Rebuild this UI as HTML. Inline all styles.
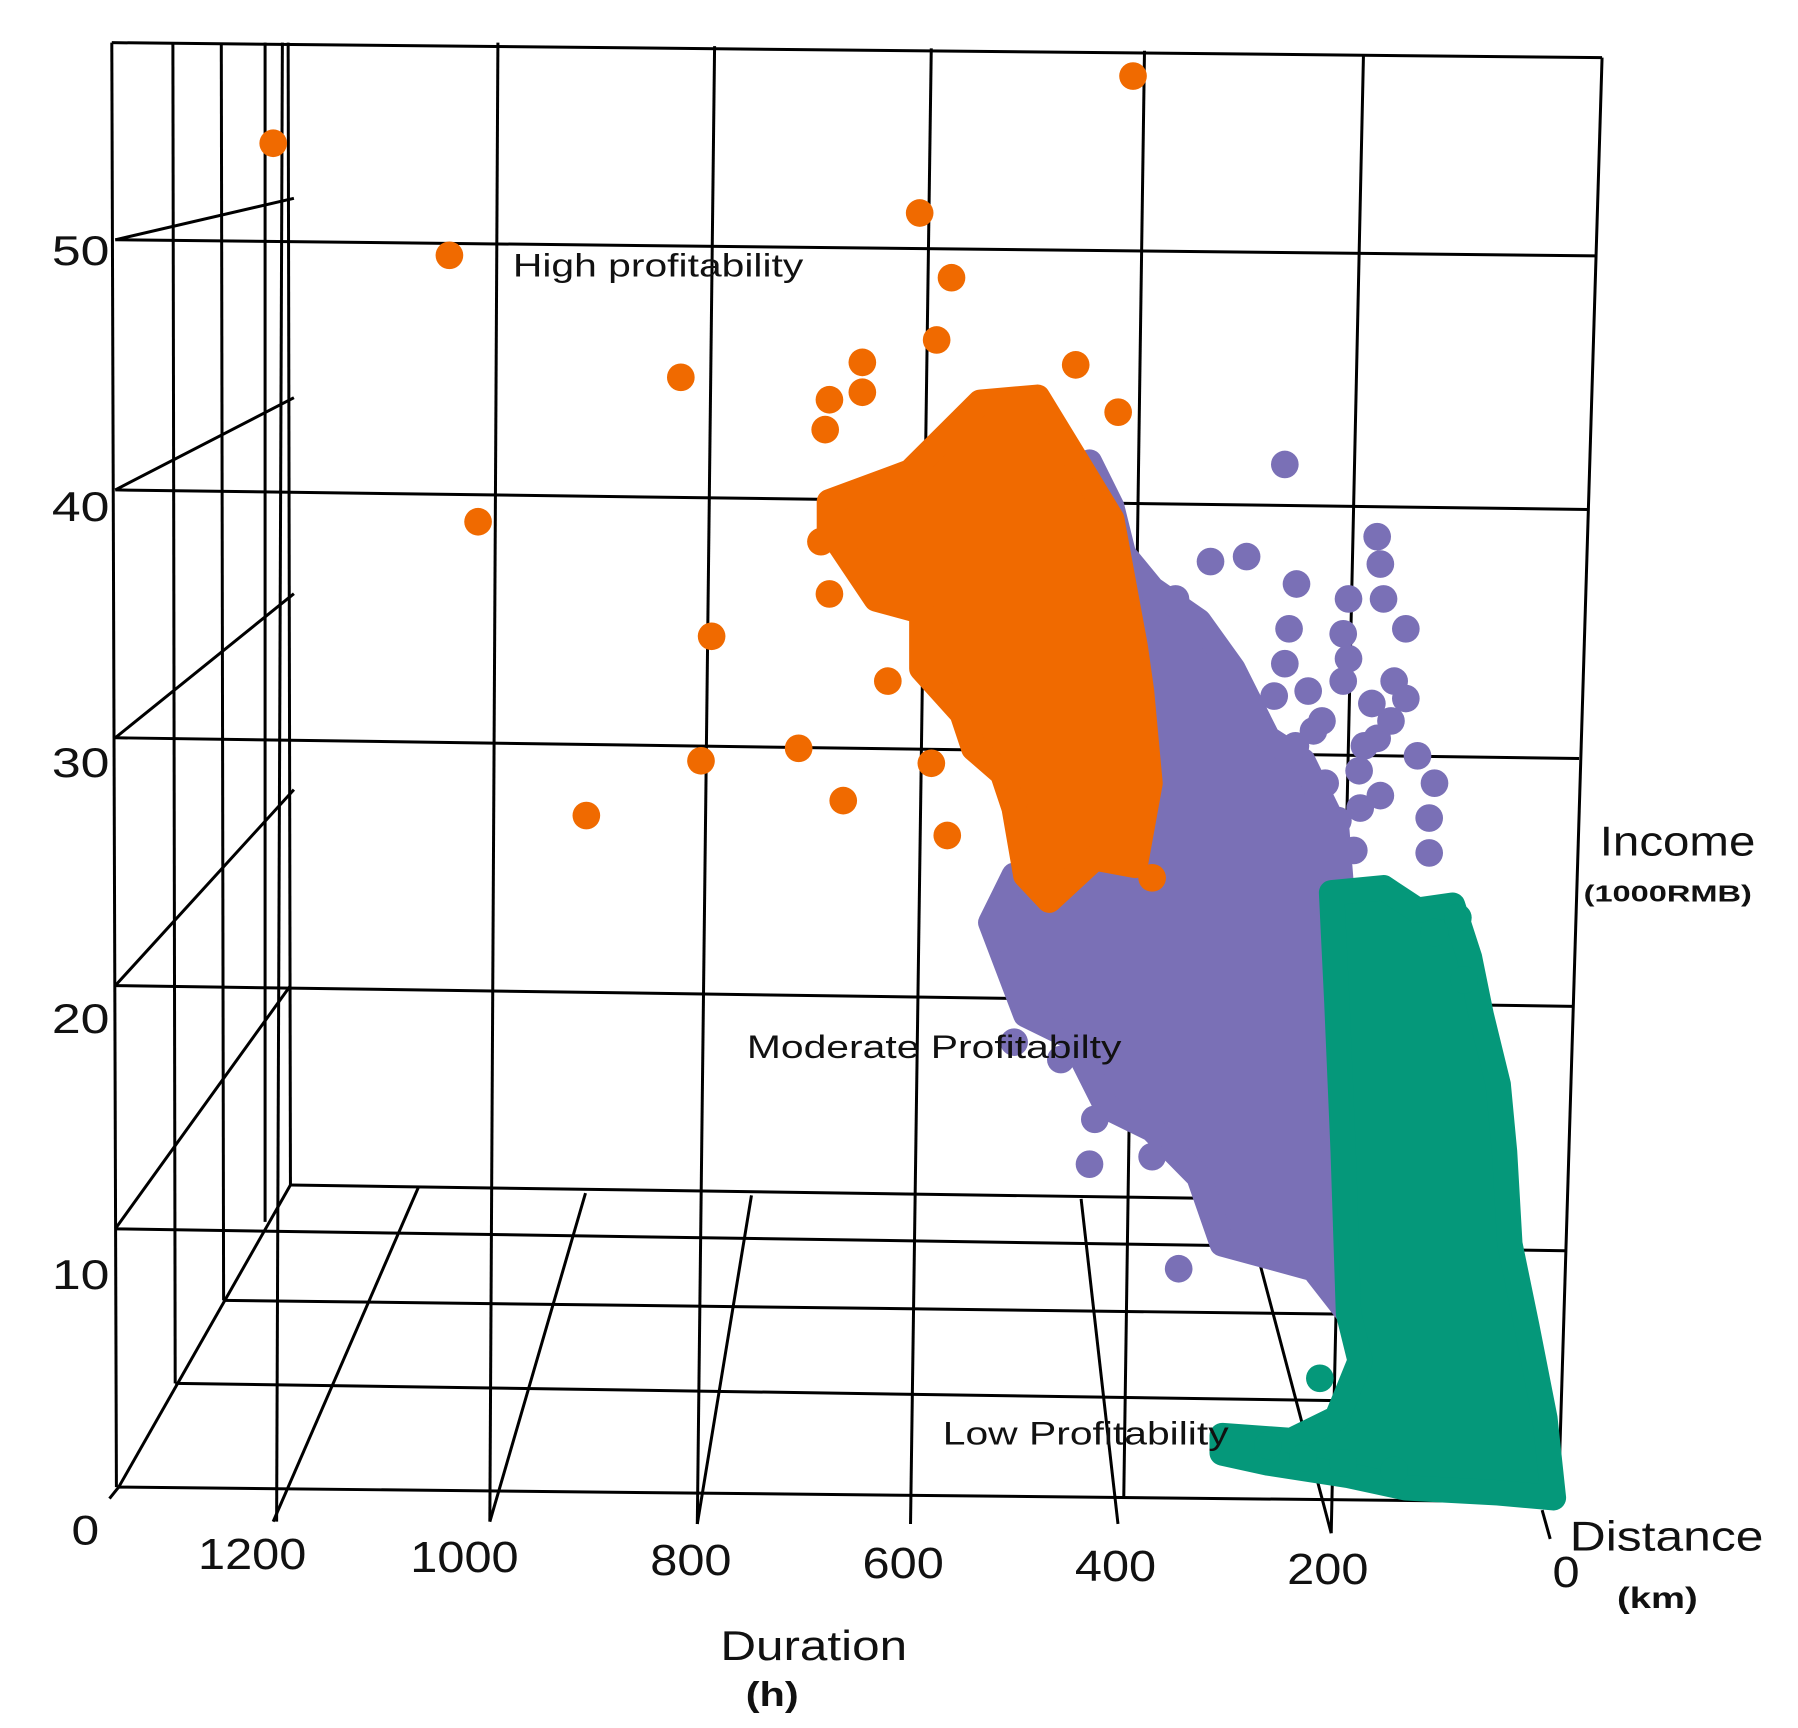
<!DOCTYPE html>
<html><head><meta charset="utf-8"><style>
html,body{margin:0;padding:0;background:#fff;}
svg{display:block;}
text{font-family:"Liberation Sans Narrow","Liberation Sans",sans-serif;fill:#111;}
</style></head><body>
<svg id="chart" width="1798" height="1728" viewBox="0 0 1560 1499" preserveAspectRatio="none" xmlns="http://www.w3.org/2000/svg">
<g id="grid" stroke="#000" stroke-width="2.6" fill="none"></g>
<g id="marks"></g>
<g id="labels"></g>
</svg>
<script>
// Data (projected front-plane coordinates: duration in h, income in 1000RMB)
const incomeTicks = [0, 10, 20, 30, 40, 50];
const durationTicks = [1200, 1000, 800, 600, 400, 200, 0];
const highDur = [1203,393,1037,594,564,819,578,648,679,648,683,447,407,1010,790,800,708,908,666,568,583,505,624,687,679,559,375];
const highInc = [54.2,56.9,49.7,51.4,48.8,44.8,46.3,45.4,43.9,44.2,42.7,45.3,43.4,39.0,34.4,29.4,29.9,27.2,27.8,26.4,29.3,27.8,32.6,38.2,36.1,31.7,24.7];
const highCoreDur = [679,603,570,537,483,440,413,391,385,377,391,429,472,494,505,516,543,554,592,592,635,657,679];
const highCoreInc = [39.8,41.0,42.4,43.8,44.0,41.0,39.1,34.0,32.2,28.5,25.2,25.5,23.8,24.8,27.5,28.9,29.9,31.3,33.1,35.4,35.9,37.3,38.7];
const modDur = [250,163,160,320,286,239,190,157,136,246,250,195,147,228,136,223,163,109,114,179,114,201,353,429,434,375,350,510,461,505,223,261,125,168,212,200,180,215,190,175,160,230,210,150,195,185,240,260];
const modInc = [41.3,38.4,37.3,37.4,37.6,36.5,35.9,35.9,34.7,34.7,33.3,32.6,32.6,32.2,31.9,30.6,30.3,28.5,27.1,27.5,25.7,25.2,35.9,15.0,13.2,13.5,9.0,21.3,17.4,18.1,9.7,9.5,29.6,31.7,28.5,27.0,29.0,31.0,33.5,30.0,28.0,27.5,26.0,31.0,34.5,25.8,30.0,32.0];
const modCoreDur = [434,413,402,375,331,299,266,233,201,195,201,195,190,223,266,309,331,375,418,451,494,527,505,429,391,377,385,391,413];
const modCoreInc = [41.4,39.6,37.7,36.3,35.0,33.1,30.3,29.4,26.6,23.4,19.7,13.7,7.2,9.0,9.5,10.0,12.7,14.6,15.5,18.3,19.2,22.9,24.8,25.5,25.2,28.5,32.2,34.0,39.1];
const lowDur = [217,266,233,195,147,87,81,109];
const lowInc = [4.6,1.9,1.4,1.2,0.9,23.1,20.6,22.5];
const lowCoreDur = [206,157,125,92,76,65,49,43,38,22,5,-3,49,136,190,266,309,309,244,201,179,190,195,201];
const lowCoreInc = [24.1,24.3,23.4,23.6,21.5,19.2,16.4,13.7,10.0,6.7,3.0,-0.2,0,0.2,0.7,1.2,1.6,2.3,2.1,3.0,5.3,7.2,13.7,19.7];

const NS = 'http://www.w3.org/2000/svg';
function xScale(d){ return 1345 - d * 0.921; }
function yScale(v){ return 1295 - v * 21.6; }
function yLabelScale(v){ return 1340 - v * 22.2; }

const grid = document.getElementById('grid');
const gridLines = [
 [97,37,1390,50],[100,208,1385,222],[100,425,1378,442],[100,640,1370,658],[100,855,1365,873],[100,1066,1358,1085],[103,1290,1352,1303],
 [97,37,101,1290],[150,37,152,1200],[192,37,194,1128],[230,37,230,1060],[250,37,252,1028],
 [245,37,240,1320],[432,37,425,1320],[620,40,605,1322],[808,42,790,1322],[993,44,975,1300],[1183,47,1155,1330],[1390,50,1352,1303],
 [100,208,255,172],[100,425,255,345],[100,640,255,515],[100,855,255,685],[100,1066,252,855],[103,1290,252,1028],
 [252,1028,1080,1040],[194,1128,1165,1140],[152,1200,1160,1215],
 [363,1030,237,1320],[508,1035,425,1320],[652,1037,605,1322],[938,1040,970,1322],[1092,1092,1155,1330],[1338,1310,1345,1335],[103,1290,95,1300]
];
gridLines.forEach(function(l){
  const ln = document.createElementNS(NS,'line');
  ln.setAttribute('x1',l[0]);ln.setAttribute('y1',l[1]);ln.setAttribute('x2',l[2]);ln.setAttribute('y2',l[3]);
  
  
  grid.appendChild(ln);
});

const marks = document.getElementById('marks');
function drawCluster(name, color, coreD, coreI, ptD, ptI){
  const pts = coreD.map(function(d,i){ return xScale(d).toFixed(1)+','+yScale(coreI[i]).toFixed(1); }).join(' ');
  const poly = document.createElementNS(NS,'polygon');
  poly.setAttribute('points', pts);
  poly.setAttribute('fill', color);
  poly.setAttribute('stroke', color);
  poly.setAttribute('stroke-width', '22');
  poly.setAttribute('stroke-linejoin', 'round');
  
  
  marks.appendChild(poly);
  ptD.forEach(function(d,i){
    const c = document.createElementNS(NS,'circle');
    c.setAttribute('cx', xScale(d)); c.setAttribute('cy', yScale(ptI[i])); c.setAttribute('r', 12);
    c.setAttribute('fill', color);
    
    
    marks.appendChild(c);
  });
}
drawCluster('moderate-profitability', '#7a70b6', modCoreDur, modCoreInc, modDur, modInc);
drawCluster('high-profitability', '#f06a00', highCoreDur, highCoreInc, highDur, highInc);
drawCluster('low-profitability', '#05987a', lowCoreDur, lowCoreInc, lowDur, lowInc);

const labels = document.getElementById('labels');
function addText(str, x, y, size, w, name, weight){
  const t = document.createElementNS(NS,'text');
  t.setAttribute('x', x); t.setAttribute('y', y); t.setAttribute('font-size', size);
  if (w) { t.setAttribute('textLength', w); t.setAttribute('lengthAdjust', 'spacingAndGlyphs'); }
  if (weight) t.setAttribute('font-weight', weight);
  t.textContent = str;
  
  
  labels.appendChild(t);
}
incomeTicks.forEach(function(v){
  addText(String(v), v === 0 ? 62 : 45, yLabelScale(v), 36, v === 0 ? 24 : 50, 'income-tick-label');
});
durationTicks.forEach(function(v){
  const s = String(v);
  const w = s.length * 23.5;
  const x = xScale(v) - 68 + (4 - s.length) * 24 + (v===0?-2:0);
  addText(s, x, 1361 + (1200 - v) * 0.013, 38, w, 'duration-tick-label');
});
addText('High profitability', 445, 240, 28, 252, 'high-profitability-label');
addText('Moderate Profitabilty', 648, 918, 28, 325, 'moderate-profitability-label');
addText('Low Profitability', 818, 1253, 28, 248, 'low-profitability-label');
addText('Income', 1388, 742, 36, 135, 'income-axis-title');
addText('(1000RMB)', 1374, 782, 20, 146, 'income-axis-unit', 'bold');
addText('Distance', 1362, 1345, 36, 168, 'distance-axis-title');
addText('(km)', 1403, 1395, 26, 70, 'distance-axis-unit', 'bold');
addText('Duration', 625, 1440, 36, 162, 'duration-axis-title');
addText('(h)', 647, 1480, 30, 46, 'duration-axis-unit', 'bold');
</script>
</body></html>
